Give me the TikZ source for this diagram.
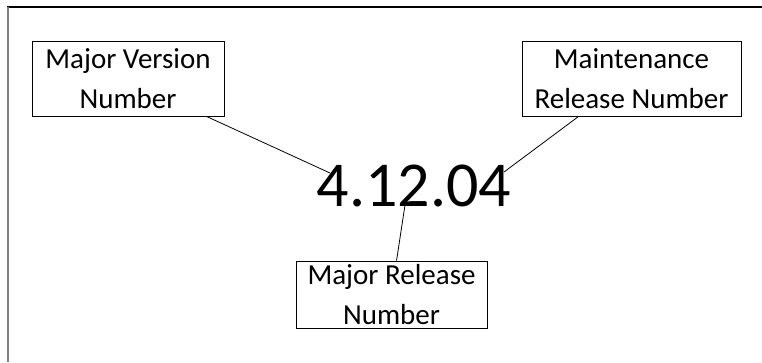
\documentclass[tikz,border=0pt]{standalone}
\usepackage{fontspec}
\setmainfont{Carlito}
\usetikzlibrary{calc}
\tikzset{
  labelbox/.style={draw=black, line width=0.9pt, inner sep=0pt, align=center,
    font=\fontsize{29}{40}\selectfont},
  link/.style={draw=black, line width=0.8pt},
}
\begin{document}
\begin{tikzpicture}[x=1pt,y=-1pt]
\useasboundingbox (0,0) rectangle (762,362);
\draw[black, line width=1.5pt] (7,7) -- (762,7);
\draw[gray, line width=2pt] (8,7) -- (8,362);
\node[labelbox, minimum width=192pt, minimum height=75pt] (mv) at (128,78.5) {Major Version\\Number};
\node[labelbox, minimum width=219pt, minimum height=75pt] (mr) at (631.5,78.5) {Maintenance\\Release Number};
\node[labelbox, minimum width=191pt, minimum height=67pt] (rel) at (391.5,294.5) {Major Release\\Number};
\node[inner sep=0pt, anchor=base, font=\fontsize{64}{70}\selectfont] (ver) at (414,206) {4.12.04};
\coordinate (e1) at (330,173);
\coordinate (e2) at (504,172);
\coordinate (e3) at (405,205);
\draw[link] ($(mv.south west)+(175,0)$) -- (e1);
\draw[link] ($(mr.south west)+(57,0)$) -- (e2);
\draw[link] ($(rel.north west)+(101,0)$) -- (e3);
\end{tikzpicture}
\end{document}
